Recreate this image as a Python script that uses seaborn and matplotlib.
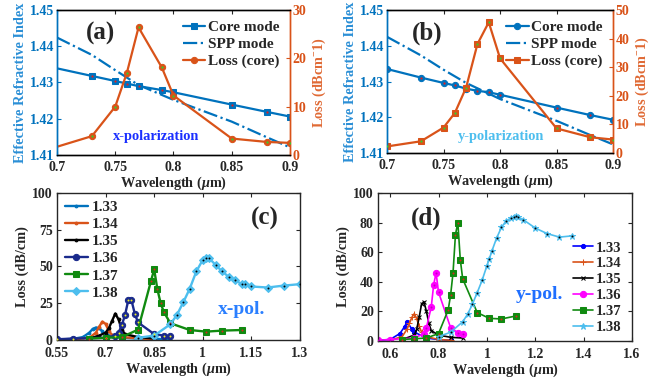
import numpy as np
import pandas as pd
import matplotlib
matplotlib.use("Agg")
import matplotlib.pyplot as plt
from matplotlib.ticker import FormatStrFormatter, FuncFormatter
import seaborn as sns

# ---------------- data ----------------
# (a) x-polarization
a_wl = [0.70, 0.73, 0.75, 0.76, 0.77, 0.79, 0.80, 0.85, 0.88, 0.90]
a_core = [1.4339, 1.4318, 1.4304, 1.4297, 1.4290, 1.4279, 1.4273, 1.4239, 1.4219, 1.4206]
a_spp_wl = [0.70, 0.73, 0.75, 0.77, 0.80, 0.85, 0.88, 0.90]
a_spp = [1.4424, 1.4376, 1.4334, 1.4293, 1.4252, 1.4192, 1.4149, 1.4121]
a_loss = [1.7, 3.9, 10.0, 17.0, 26.4, 18.1, 12.3, 3.4, 2.7, 2.5]

# (b) y-polarization
b_wl = [0.70, 0.73, 0.75, 0.76, 0.77, 0.78, 0.79, 0.80, 0.85, 0.88, 0.90]
b_core = [1.4335, 1.4311, 1.4296, 1.4289, 1.4280, 1.4274, 1.4270, 1.4263, 1.4227, 1.4206, 1.4193]
b_spp_wl = [0.70, 0.73, 0.75, 0.77, 0.80, 0.85, 0.88, 0.90]
b_spp = [1.4425, 1.4373, 1.4333, 1.4296, 1.4251, 1.4190, 1.4150, 1.4124]
b_loss = [2.3, 4.1, 8.9, 14.0, 22.9, 38.1, 45.7, 33.1, 8.6, 5.5, 4.7]

# (c) x-pol. loss vs wavelength for analyte RI
c_labels = ["1.33", "1.34", "1.35", "1.36", "1.37", "1.38"]
c133_x = [0.55, 0.60, 0.63, 0.65, 0.66, 0.67, 0.68, 0.69, 0.70, 0.72, 0.75, 0.80, 0.85, 0.90]
c133_y = [0.3, 0.8, 2.0, 5.0, 7.5, 8.5, 8.0, 6.0, 4.0, 2.5, 1.5, 1.0, 0.8, 0.5]
c134_x = [0.60, 0.65, 0.67, 0.68, 0.69, 0.70, 0.71, 0.72, 0.75, 0.80, 0.85]
c134_y = [0.3, 1.5, 5.0, 9.0, 12.5, 11.0, 6.0, 3.5, 2.0, 1.2, 0.5]
c135_x = [0.65, 0.68, 0.70, 0.71, 0.72, 0.73, 0.74, 0.75, 0.76, 0.80, 0.85]
c135_y = [1.0, 3.0, 5.0, 8.0, 13.0, 18.0, 14.0, 7.0, 4.0, 2.0, 1.0]
c136_x = [0.55, 0.60, 0.70, 0.73, 0.74, 0.75, 0.76, 0.77, 0.78, 0.79, 0.80, 0.85, 0.88, 0.90]
c136_y = [0.5, 1.0, 1.5, 3.0, 5.0, 10.0, 17.0, 27.0, 27.0, 18.0, 12.0, 4.0, 3.0, 2.5]
c137_x = [0.65, 0.70, 0.75, 0.80, 0.84, 0.85, 0.86, 0.87, 0.88, 0.90, 0.96, 1.01, 1.06, 1.12]
c137_y = [1.0, 1.5, 2.0, 7.0, 40.0, 48.0, 34.5, 25.0, 19.0, 11.4, 6.8, 5.7, 6.4, 6.8]
c138_x = [0.80, 0.85, 0.90, 0.92, 0.94, 0.96, 0.98, 1.00, 1.01, 1.02, 1.04, 1.06, 1.08, 1.10,
          1.12, 1.13, 1.15, 1.20, 1.25, 1.30]
c138_y = [1.5, 3.0, 10.7, 17.0, 25.7, 35.0, 46.6, 54.5, 56.0, 55.5, 51.0, 46.6, 43.0, 40.5,
          38.2, 38.0, 36.4, 35.7, 37.0, 38.0]

# (d) y-pol.
d133_x = [0.55, 0.60, 0.64, 0.66, 0.67, 0.69, 0.70, 0.75, 0.80, 0.85]
d133_y = [0.5, 1.0, 5.0, 9.7, 13.0, 8.0, 6.0, 2.0, 1.0, 0.5]
d134_x = [0.60, 0.65, 0.67, 0.68, 0.69, 0.70, 0.71, 0.72, 0.73, 0.75, 0.80, 0.85]
d134_y = [0.5, 3.0, 8.0, 12.0, 16.0, 18.5, 15.0, 10.0, 6.0, 3.0, 1.0, 0.5]
d135_x = [0.65, 0.70, 0.71, 0.72, 0.73, 0.74, 0.75, 0.76, 0.77, 0.80, 0.85, 0.90]
d135_y = [1.0, 4.0, 8.0, 16.0, 25.0, 26.5, 20.0, 12.0, 7.0, 4.0, 2.5, 2.0]
d136_x = [0.55, 0.60, 0.70, 0.74, 0.75, 0.77, 0.78, 0.79, 0.80, 0.85, 0.88, 0.90]
d136_y = [0.5, 1.0, 2.0, 5.0, 9.0, 23.0, 38.0, 46.0, 33.0, 9.0, 5.6, 4.7]
d137_x = [0.65, 0.70, 0.75, 0.80, 0.84, 0.85, 0.86, 0.87, 0.88, 0.89, 0.90, 0.96, 1.01, 1.06, 1.12]
d137_y = [1.0, 1.5, 2.0, 5.0, 21.0, 31.0, 46.0, 71.8, 80.0, 55.0, 42.0, 19.2, 15.3, 14.9, 16.9]
d138_x = [0.80, 0.85, 0.90, 0.92, 0.94, 0.96, 0.98, 1.00, 1.01, 1.02, 1.04, 1.06, 1.08, 1.10,
          1.11, 1.12, 1.13, 1.15, 1.20, 1.25, 1.30, 1.35]
d138_y = [3.0, 5.9, 13.0, 18.0, 24.8, 32.7, 40.9, 50.8, 55.5, 60.5, 69.5, 76.7, 81.3, 83.0,
          83.5, 84.2, 83.5, 82.0, 76.3, 72.5, 70.2, 71.0]

# ---------------- style ----------------
sns.set_style("ticks")
plt.rcParams['font.family'] = ['Liberation Serif', 'DejaVu Serif']
plt.rcParams['font.weight'] = 'bold'
plt.rcParams['axes.labelweight'] = 'bold'
plt.rcParams['mathtext.fontset'] = 'custom'
plt.rcParams['mathtext.rm'] = 'Liberation Serif:bold'
plt.rcParams['mathtext.it'] = 'Liberation Serif:italic:bold'
plt.rcParams['mathtext.bf'] = 'Liberation Serif:bold'
plt.rcParams['xtick.direction'] = 'in'
plt.rcParams['ytick.direction'] = 'in'
plt.rcParams['axes.linewidth'] = 1.0

BLUE = '#0072BD'
BLUE_LBL = '#2b8fd6'
ORANGE = '#D95319'
ORANGE_LBL = '#e06a35'
TICK = 10
LBL = 10.3
TAG = 18
WL = r'Wavelength ($\mu$m)'
gfmt = FuncFormatter(lambda v, p: '%g' % v)

fig = plt.figure(figsize=(6.61, 3.78), dpi=100)


def dots(ax, x, y, color, s=2.5, z=5):
    sns.scatterplot(x=x, y=y, ax=ax, color=color, s=s, marker='o', linewidth=0, zorder=z, legend=False)


def top_panel(pos, wl, core, spp_wl, spp, loss, core_marker, loss_marker, loss_max, loss_ticks,
              tag, pol_text, pol_xy, pol_color, tag_xy, skip_first):
    ax = fig.add_axes(pos)
    axr = ax.twinx()
    me = list(range(1, len(wl))) if skip_first else None
    sns.lineplot(x=wl, y=core, ax=ax, color=BLUE, lw=1.6, marker=core_marker, markersize=4.5,
                 markeredgecolor=BLUE, markerfacecolor=BLUE, markevery=me, sort=False,
                 estimator=None, label='Core mode', legend=False)
    sns.lineplot(x=spp_wl, y=spp, ax=ax, color=BLUE, lw=1.6, linestyle='-.', sort=False,
                 estimator=None, label='SPP mode', legend=False)
    sns.lineplot(x=wl, y=loss, ax=axr, color=ORANGE, lw=1.6, marker=loss_marker, markersize=4.5,
                 markeredgecolor=ORANGE, markerfacecolor=ORANGE, markevery=me, sort=False,
                 estimator=None, label='Loss (core)', legend=False)
    i0 = 1 if skip_first else 0
    dots(ax, wl[i0:], core[i0:], '#e02020')
    dots(axr, wl[i0:], loss[i0:], '#30d030')
    ax.set_xlim(0.7, 0.9)
    ax.set_ylim(1.41, 1.45)
    ax.set_xticks([0.7, 0.75, 0.8, 0.85, 0.9])
    ax.xaxis.set_major_formatter(gfmt)
    ax.set_yticks([1.41, 1.42, 1.43, 1.44, 1.45])
    ax.yaxis.set_major_formatter(FormatStrFormatter('%.2f'))
    axr.set_ylim(0, loss_max)
    axr.set_yticks(loss_ticks)
    ax.tick_params(axis='x', labelsize=TICK, length=3, top=True, pad=4.5)
    ax.tick_params(axis='y', labelsize=TICK, length=3, colors=BLUE, pad=2)
    axr.tick_params(axis='y', labelsize=TICK, length=3, colors=ORANGE, pad=2)
    for t in ax.get_xticklabels() + ax.get_yticklabels() + axr.get_yticklabels():
        t.set_fontweight('bold')
    ax.set_xlabel(WL, fontsize=LBL, labelpad=0.5)
    ax.set_ylabel('Effective Refractive Index', fontsize=LBL, color=BLUE_LBL, labelpad=2)
    axr.set_ylabel(r'Loss (dBcm$^{\mathbf{-}}$1)', fontsize=LBL, color=ORANGE_LBL, rotation=90, labelpad=3)
    axr.spines['left'].set_color(BLUE)
    axr.spines['right'].set_color(ORANGE)
    ax.spines['left'].set_color(BLUE)
    ax.spines['right'].set_color(ORANGE)
    for s in ['top', 'bottom']:
        axr.spines[s].set_color('black')
    h1, l1 = ax.get_legend_handles_labels()
    h2, l2 = axr.get_legend_handles_labels()
    axr.legend(h1 + h2, l1 + l2, loc='upper right', frameon=False,
               handlelength=1.5, handletextpad=0.15, labelspacing=0.2, borderaxespad=0.5,
               borderpad=0.2, prop={'weight': 'bold', 'size': 11})
    ax.text(tag_xy[0], tag_xy[1], tag, transform=ax.transAxes, fontsize=TAG, fontweight='bold',
            ha='left', va='center')
    ax.text(pol_xy[0], pol_xy[1], pol_text, fontsize=10.4, fontweight='bold', color=pol_color,
            ha='left', va='center')
    return ax, axr


top_panel([0.0862, 0.590, 0.3525, 0.3836], a_wl, a_core, a_spp_wl, a_spp, a_loss, 's', 'o',
          30, [0, 10, 20, 30], '(a)', 'x-polarization', (0.748, 1.415), '#1a2fff', (0.125, 0.84), True)
top_panel([0.5855, 0.5952, 0.342, 0.3783], b_wl, b_core, b_spp_wl, b_spp, b_loss, 'o', 's',
          50, [0, 10, 20, 30, 40, 50], '(b)', 'y-polarization', (0.763, 1.4145), '#4DBEEE', (0.11, 0.836), False)


def bottom_common(ax, xlim, xticks):
    ax.set_xlim(*xlim)
    ax.set_ylim(0, 100)
    ax.set_xticks(xticks)
    ax.xaxis.set_major_formatter(gfmt)
    ax.tick_params(labelsize=TICK, length=3, top=True, right=True, pad=3)
    ax.tick_params(axis='x', pad=5)
    for t in ax.get_xticklabels() + ax.get_yticklabels():
        t.set_fontweight('bold')
    for s in ['top', 'right']:
        ax.spines[s].set_visible(True)
    ax.set_xlabel(WL, fontsize=LBL, labelpad=0.5)
    ax.set_ylabel('Loss (dB/cm)', fontsize=LBL, labelpad=2)


# (c)
axc = fig.add_axes([0.0862, 0.1005, 0.3676, 0.389])
c_series = [
    (c133_x, c133_y, BLUE, '.', 4, BLUE, None),
    (c134_x, c134_y, ORANGE, '.', 4, ORANGE, None),
    (c135_x, c135_y, 'black', '.', 4, 'black', None),
    (c136_x, c136_y, '#1a2a8c', 'o', 4.5, '#1a2a8c', '#f0f020'),
    (c137_x, c137_y, '#108a10', 's', 4.5, '#108a10', '#e02020'),
    (c138_x, c138_y, '#4DBEEE', 'D', 4.5, '#4DBEEE', '#000000'),
]
for (x, y, col, mk, ms, mfc, dc), lab in zip(c_series, c_labels):
    sns.lineplot(x=x, y=y, ax=axc, color=col, lw=1.7, marker=mk, markersize=ms, markerfacecolor=mfc,
                 markeredgecolor=col, sort=False, estimator=None, label=lab, legend=False)
    if dc is not None:
        dots(axc, x, y, dc, s=2)
bottom_common(axc, (0.55, 1.3), [0.55, 0.7, 0.85, 1.0, 1.15, 1.3])
axc.set_yticks([0, 25, 50, 75, 100])
h, l = axc.get_legend_handles_labels()
axc.legend(h, l, loc='upper left', frameon=False, handlelength=1.5, handletextpad=0.3,
           labelspacing=0.22, borderaxespad=0.2, borderpad=0.3, prop={'weight': 'bold', 'size': 11})
axc.text(0.8, 0.83, '(c)', transform=axc.transAxes, fontsize=TAG, fontweight='bold', ha='left', va='center')
axc.text(1.0476, 20.5, 'x-pol.', fontsize=14, fontweight='bold', color='#2a7fff', ha='left', va='center')

# (d)
axd = fig.add_axes([0.5719, 0.0979, 0.3843, 0.3915])
d_series = [
    (d133_x, d133_y, '#0000ff', 'o', 3, '#0000ff', None),
    (d134_x, d134_y, ORANGE, '+', 4.5, ORANGE, None),
    (d135_x, d135_y, 'black', 'x', 3, 'black', None),
    (d136_x, d136_y, '#ff00ff', 'o', 4.5, '#ff00ff', '#c000c0'),
    (d137_x, d137_y, '#108a10', 's', 4.5, '#108a10', '#e02020'),
    (d138_x, d138_y, '#4DBEEE', '*', 5, '#4DBEEE', '#000000'),
]
for (x, y, col, mk, ms, mfc, dc), lab in zip(d_series, c_labels):
    sns.lineplot(x=x, y=y, ax=axd, color=col, lw=1.2, marker=mk, markersize=ms, markerfacecolor=mfc,
                 markeredgecolor=col, sort=False, estimator=None, label=lab, legend=False)
    if dc is not None:
        dots(axd, x, y, dc, s=2)
bottom_common(axd, (0.55, 1.6), [0.6, 0.8, 1.0, 1.2, 1.4, 1.6])
axd.set_yticks([0, 20, 40, 60, 80, 100])
h, l = axd.get_legend_handles_labels()
axd.legend(h, l, loc='lower right', bbox_to_anchor=(0.985, 0.0), frameon=False, handlelength=1.4,
           handletextpad=0.15, labelspacing=0.18, borderaxespad=0.2, borderpad=0.3,
           prop={'weight': 'bold', 'size': 10.5})
axd.text(0.13, 0.83, '(d)', transform=axd.transAxes, fontsize=TAG, fontweight='bold', ha='left', va='center')
axd.text(1.118, 31.2, 'y-pol.', fontsize=14, fontweight='bold', color='#1f6fff', ha='left', va='center')

fig.savefig('out.png', dpi=100)
